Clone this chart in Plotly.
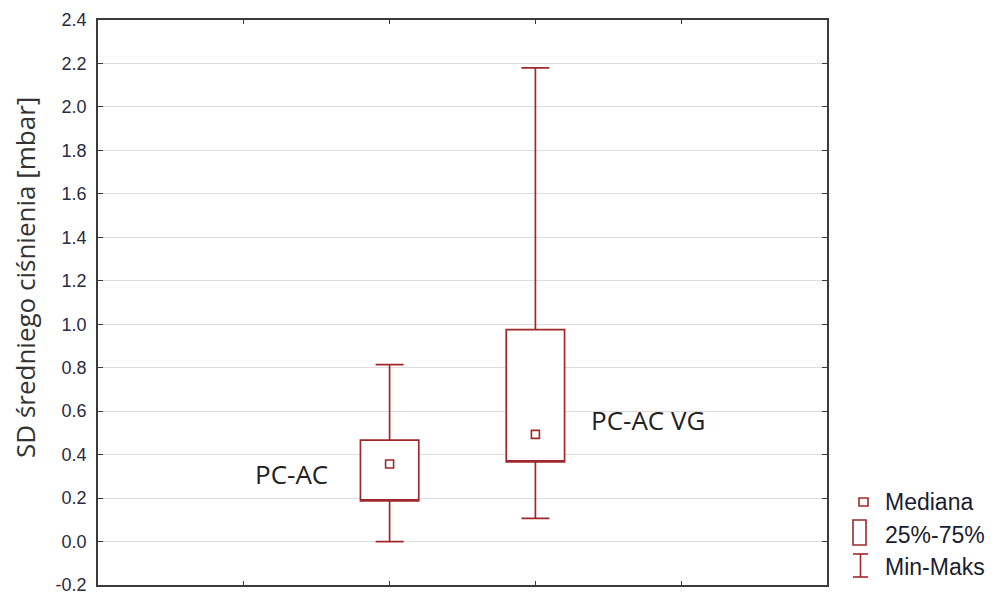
import plotly.graph_objects as go

# ---- data ----
categories = ["PC-AC", "PC-AC VG"]
minimum = [0.0, 0.107]
q1 = [0.187, 0.367]
median = [0.357, 0.493]
q3 = [0.467, 0.975]
maximum = [0.814, 2.18]
y_tick_values = [-0.2, 0.0, 0.2, 0.4, 0.6, 0.8, 1.0, 1.2, 1.4, 1.6, 1.8, 2.0, 2.2, 2.4]
y_tick_labels = ["-0.2", "0.0", "0.2", "0.4", "0.6", "0.8", "1.0", "1.2",
                 "1.4", "1.6", "1.8", "2.0", "2.2", "2.4"]
legend_labels = ["Mediana", "25%-75%", "Min-Maks"]
y_title = "SD średniego ciśnienia [mbar]"

RED = "#A0282C"
AXIS = "#3a3a3a"
W, H = 1003, 596
L, R, T, B = 98, 827, 20, 585


def px(xp):
    return (xp - L) / (R - L)


def py(yp):
    return (B - yp) / (B - T)


positions = [i + 2 for i in range(len(categories))]

fig = go.Figure()
for i, cat in enumerate(categories):
    fig.add_trace(go.Box(
        x=[positions[i]], q1=[q1[i]], median=[q1[i]], q3=[q3[i]],
        lowerfence=[minimum[i]], upperfence=[maximum[i]],
        width=0.4, whiskerwidth=0.48, boxpoints=False,
        line=dict(color=RED, width=1.7), fillcolor="white",
        name=cat, showlegend=False, hoverinfo="skip"))

fig.add_trace(go.Scatter(
    x=positions, y=median, mode="markers",
    marker=dict(symbol="square", size=8, color="white",
                line=dict(color=RED, width=1.6)),
    showlegend=False, hoverinfo="skip"))

label_font = dict(family="Open Sans", size=26, color="#222222")
fig.add_annotation(x=positions[0] - 0.41, y=0.309, xref="x", yref="y",
                   text=categories[0], showarrow=False, xanchor="right",
                   yanchor="middle", font=label_font)
fig.add_annotation(x=positions[1] + 0.37, y=0.559, xref="x", yref="y",
                   text=categories[1], showarrow=False, xanchor="left",
                   yanchor="middle", font=label_font)

# y axis title
fig.add_annotation(x=px(25), y=py(278), xref="paper", yref="paper",
                   text=y_title, textangle=-90, showarrow=False,
                   xanchor="center", yanchor="middle",
                   font=dict(family="Open Sans", size=26, color="#333333"))

# custom legend
shapes = []
shapes.append(dict(type="rect", xref="paper", yref="paper",
                   x0=px(859), x1=px(868), y0=py(506), y1=py(498),
                   line=dict(color=RED, width=1.6), fillcolor="white"))
shapes.append(dict(type="rect", xref="paper", yref="paper",
                   x0=px(853), x1=px(866), y0=py(545), y1=py(520),
                   line=dict(color=RED, width=1.6), fillcolor="white"))
shapes.append(dict(type="line", xref="paper", yref="paper",
                   x0=px(860.5), x1=px(860.5), y0=py(577), y1=py(554),
                   line=dict(color=RED, width=1.6)))
shapes.append(dict(type="line", xref="paper", yref="paper",
                   x0=px(853), x1=px(868), y0=py(554), y1=py(554),
                   line=dict(color=RED, width=1.6)))
shapes.append(dict(type="line", xref="paper", yref="paper",
                   x0=px(853), x1=px(868), y0=py(577), y1=py(577),
                   line=dict(color=RED, width=1.6)))
for lab, yc in zip(legend_labels, [502, 535, 567]):
    fig.add_annotation(x=px(883), y=py(yc), xref="paper", yref="paper",
                       text=lab, showarrow=False, xanchor="left",
                       yanchor="middle",
                       font=dict(family="Liberation Sans", size=23,
                                 color="#1c1c30"))

fig.update_layout(
    width=W, height=H,
    margin=dict(l=L, r=W - R, t=T, b=H - B, pad=0, autoexpand=False),
    paper_bgcolor="white", plot_bgcolor="white",
    boxmode="overlay", showlegend=False, shapes=shapes,
    xaxis=dict(range=[0, 5], tickvals=[1, 2, 3, 4], showticklabels=False,
               ticks="inside", ticklen=4, tickcolor=AXIS, tickwidth=1,
               showline=True, linecolor=AXIS, linewidth=1.5, mirror="ticks",
               showgrid=False, zeroline=False, fixedrange=True,
               automargin=False),
    yaxis=dict(range=[-0.2, 2.4], tickvals=y_tick_values,
               ticktext=y_tick_labels,
               ticks="inside", ticklen=5, tickcolor=AXIS, tickwidth=1,
               showline=True, linecolor=AXIS, linewidth=1.5, mirror="ticks",
               showgrid=True, gridcolor="#dddddd", gridwidth=1,
               zeroline=False, ticklabelstandoff=6,
               ticklabeloverflow="allow", automargin=False,
               tickfont=dict(family="Liberation Sans", size=18,
                             color="#2a2a40"), fixedrange=True),
)

fig.write_html("out.html")
